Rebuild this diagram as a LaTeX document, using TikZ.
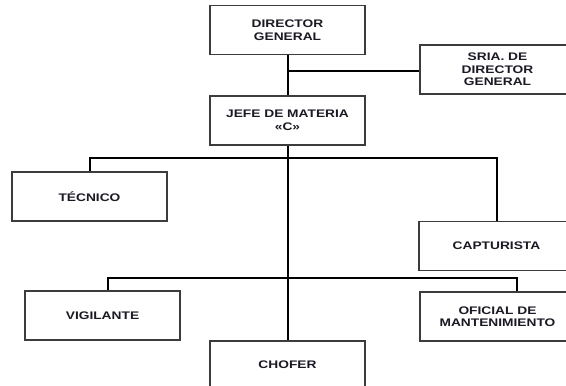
\documentclass[tikz,border=0pt]{standalone}
\usepackage{fontspec}
\newfontfamily\lblfont[FakeStretch=1.25]{Liberation Sans}
\definecolor{boxline}{HTML}{3C3C3C}
\definecolor{txt}{HTML}{1A1A24}
\begin{document}
\begin{tikzpicture}[x=1pt,y=-1pt,
  lbl/.style={text=txt, font=\lblfont\bfseries\fontsize{11}{12.5}\selectfont},
  box/.style={lbl, draw=boxline, line width=1.1pt, fill=white, minimum width=155pt, minimum height=49pt,
    inner sep=0pt, align=center},
  conn/.style={draw=black, line width=2pt}]
\clip (0,0) rectangle (566,386);
\fill[white] (0,0) rectangle (566,386);
% connectors first (boxes drawn on top)
\coordinate (a1) at (287.5,71);
\coordinate (t1) at (89.5,158);
\coordinate (t2) at (497,158);
\coordinate (v1) at (108,278);
\coordinate (v2) at (517,278);
\coordinate (ctop) at (287.5,341);
\coordinate (dgb) at (287.5,55);
\coordinate (sw) at (420,71);
\coordinate (tecn) at (89.5,172);
\coordinate (capn) at (497,221);
\coordinate (vign) at (108,291);
\coordinate (ofin) at (517,292);
\draw[conn] (dgb) -- (ctop);
\draw[conn] (a1) -- (sw);
\draw[conn] (tecn) -- (t1) -- (t2) -- (capn);
\draw[conn] (vign) -- (v1) -- (v2) -- (ofin);
% boxes
\node[box] (dg) at (287.5,30) {DIRECTOR\\GENERAL};
\node[box] (sria) at (497.5,69.5) {SRIA. DE\\DIRECTOR\\GENERAL};
\node[box] (jefe) at (287.5,120.5) {JEFE DE MATERIA\\«C»};
\node[box] (tec) at (89.5,196.5) {TÉCNICO};
\node[box] (cap) at (496.5,246) {CAPTURISTA};
\node[box] (vig) at (102.5,315.5) {VIGILANTE};
\node[box] (ofi) at (497.5,316.5) {OFICIAL DE\\MANTENIMIENTO};
\node[box, minimum height=50pt] (cho) at (287.5,366) {};
\node[lbl] (chot) at (287.5,365) {CHOFER};
\end{tikzpicture}
\end{document}
